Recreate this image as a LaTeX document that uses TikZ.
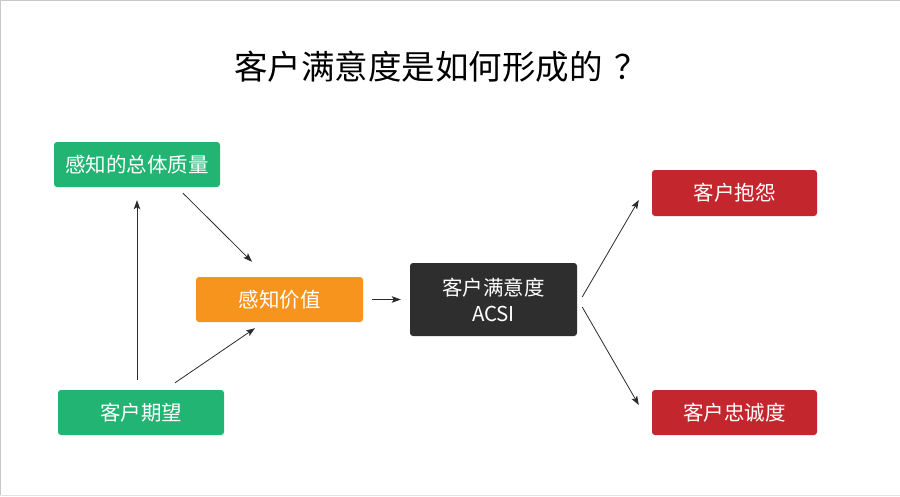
\documentclass[tikz,border=0pt]{standalone}
\usepackage{fontspec}
\setmainfont{Noto Sans CJK SC}
\usetikzlibrary{arrows.meta,calc}
\definecolor{boxgreen}{HTML}{22B473}
\definecolor{boxorange}{HTML}{F7941E}
\definecolor{boxdark}{HTML}{2E2E2E}
\definecolor{boxred}{HTML}{C4262E}
\definecolor{arrowgray}{HTML}{2B2B2B}
\definecolor{framegray}{HTML}{C8C8C8}
\tikzset{
  boxnode/.style={rectangle, rounded corners=3pt, text=white, inner sep=0pt,
    minimum width=166pt, minimum height=45pt, align=center,
    font=\fontsize{20.5}{27}\selectfont},
  arr/.style={draw=arrowgray, line width=0.8pt, -{Stealth[length=9pt,width=6.5pt,inset=2pt]}}
}
\begin{document}
\begin{tikzpicture}[x=1pt,y=-1pt]
\useasboundingbox (0,0) rectangle (900,496);
\fill[white] (0,0) rectangle (900,496);
\draw[framegray, line width=1.5pt] (0,496) -- (0,0) -- (900,0);
\draw[framegray!50, line width=1pt] (0,495.5) -- (900,495.5);

\node[font=\fontsize{33.5}{40}\selectfont, text=black] (title) at (441,67) {客户满意度是如何形成的\hspace{12pt}？};

\node[boxnode, fill=boxgreen] (qual) at (137,164.5) {感知的总体质量};
\node[boxnode, fill=boxgreen] (expect) at (141,412.5) {客户期望};
\node[boxnode, fill=boxorange, minimum width=167pt] (value) at (279.5,299.5) {感知价值};
\node[boxnode, fill=boxdark, minimum width=167pt, minimum height=73pt] (acsi) at (493.5,299.5) {客户满意度\\[-1pt]ACSI};
\node[boxnode, fill=boxred, minimum width=165pt, minimum height=46pt] (complain) at (734.5,193) {客户抱怨};
\node[boxnode, fill=boxred, minimum width=165pt] (loyal) at (734.5,412.5) {客户忠诚度};

\draw[arr] ($(expect.north)+(-4,-10)$) -- ($(qual.south)+(0,13)$);
\draw[arr] ($(qual.south)+(46,6)$) -- ($(value.north)+(-27.5,-15)$);
\draw[arr] ($(expect.north)+(34,-7)$) -- ($(value.south)+(-24.5,6)$);
\draw[arr] ($(value.east)+(9,0)$) -- ($(acsi.west)+(-9,0)$);
\draw[arr] ($(acsi.east)+(5,-2.5)$) -- ($(complain.west)+(-13,7)$);
\draw[arr] ($(acsi.east)+(5,7.5)$) -- ($(loyal.west)+(-13,-7.5)$);
\end{tikzpicture}
\end{document}
